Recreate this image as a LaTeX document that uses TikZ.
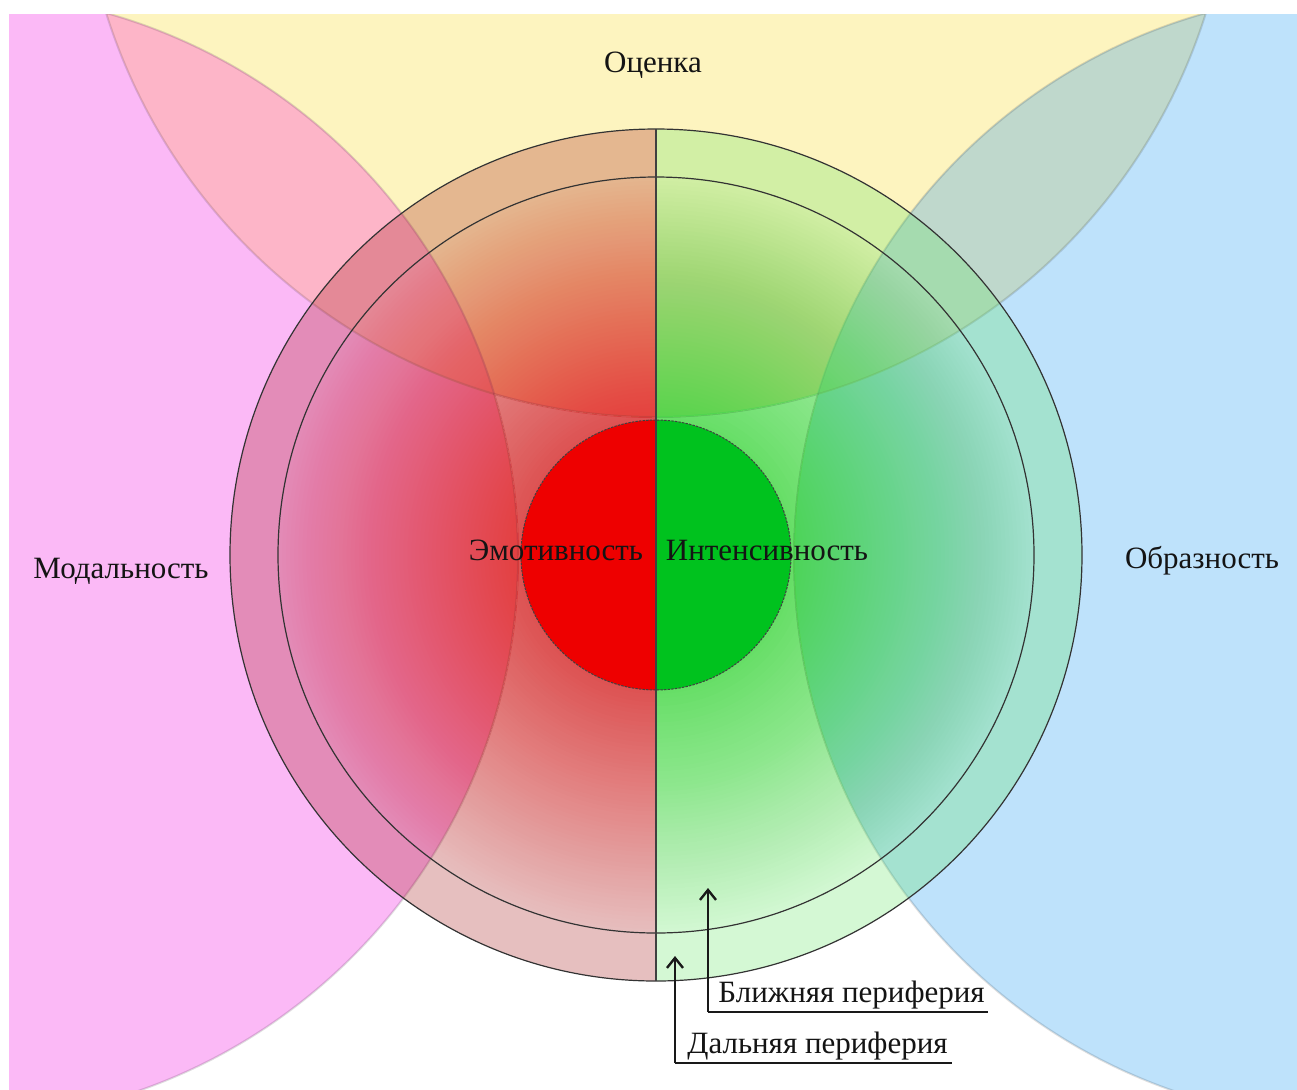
\documentclass[tikz,border=0pt]{standalone}
\usepackage{fontspec}
\setmainfont{Liberation Serif}
\usetikzlibrary{arrows.meta}
\definecolor{pinkbg}{RGB}{251,185,246}
\definecolor{yellowbg}{RGB}{253,244,191}
\definecolor{bluebg}{RGB}{190,226,251}
\definecolor{pinkyellow}{RGB}{253,181,200}
\definecolor{yellowblue}{RGB}{191,216,204}
\definecolor{tintL}{RGB}{165,25,25}
\definecolor{tintR}{RGB}{100,229,100}
\definecolor{gradL}{RGB}{232,40,38}
\definecolor{gradR}{RGB}{55,212,55}
\definecolor{coreL}{RGB}{238,0,0}
\definecolor{coreR}{RGB}{0,194,30}
\tikzset{
  bigedge/.style={draw=black, draw opacity=0.13, line width=1pt},
  ringline/.style={draw=black!80, line width=0.6pt},
  coreline/.style={draw=black!75, line width=0.5pt, dash pattern=on 1.2pt off 0.6pt},
  divider/.style={draw=black!75, line width=0.55pt},
  lbl/.style={inner sep=0pt, font=\fontsize{15.5}{18}\selectfont, text=black!92},
  pointer/.style={draw=black!90, line width=1.2pt, -{Straight Barb[length=5pt,width=8pt]}},
  uline/.style={draw=black!90, line width=1.3pt}
}
\begin{document}
\begin{tikzpicture}[x=0.5pt,y=-0.5pt]
\useasboundingbox (0,0) rectangle (1297,1089);
% background lobes
\begin{scope}
  \clip (9,14) rectangle (1297,1089);
  \fill[yellowbg] (656,-159) circle (576);
  \fill[pinkbg] (-47,557) circle (565);
  \fill[bluebg] (1359,557) circle (565);
  \begin{scope}
    \clip (656,-159) circle (576);
    \fill[pinkyellow] (-47,557) circle (565);
    \fill[yellowblue] (1359,557) circle (565);
  \end{scope}
  \path[bigedge] (656,-159) circle (576);
  \path[bigedge] (-47,557) circle (565);
  \path[bigedge] (1359,557) circle (565);
\end{scope}
% left half of the main circle
\begin{scope}
  \clip (0,0) rectangle (656,1089);
  \fill[tintL, fill opacity=0.28] (656,555) circle (426);
  \foreach \i in {0,...,59} {
    \pgfmathsetmacro\rr{378-\i*4.05}
    \pgfmathsetmacro\op{(0.68/60)/(1-\i*0.68/60)}
    \fill[gradL, fill opacity=\op] (656,555) circle (\rr);
  }
  \fill[coreL] (656,555) circle (135);
\end{scope}
% right half of the main circle
\begin{scope}
  \clip (656,0) rectangle (1297,1089);
  \fill[tintR, fill opacity=0.28] (656,555) circle (426);
  \foreach \i in {0,...,59} {
    \pgfmathsetmacro\rr{378-\i*4.05}
    \pgfmathsetmacro\op{(0.7/60)/(1-\i*0.7/60)}
    \fill[gradR, fill opacity=\op] (656,555) circle (\rr);
  }
  \fill[coreR] (656,555) circle (135);
\end{scope}
% outlines
\path[ringline] (656,555) circle (426);
\path[ringline] (656,555) circle (378);
\path[coreline] (656,555) circle (135);
\coordinate (dtop) at (656,129);
\coordinate (dbot) at (656,981);
\draw[divider] (dtop) -- (dbot);
% labels
\node[lbl, anchor=base] (ocenka) at (653,72) {Оценка};
\node[lbl, anchor=base] (modal) at (121,578) {Модальность};
\node[lbl, anchor=base] (obraz) at (1202,568) {Образность};
\node[lbl, anchor=base] (emot) at (556,560) {Эмотивность};
\node[lbl, anchor=base] (intens) at (767,560) {Интенсивность};
\node[lbl, anchor=base west] (blizh) at (718,1002) {Ближняя периферия};
\node[lbl, anchor=base west] (dal) at (687,1053) {Дальняя периферия};
% pointers
\coordinate (b0) at (708,1012);
\coordinate (b1) at (988,1012);
\coordinate (b2) at (708,888);
\coordinate (d0) at (675,1063);
\coordinate (d1) at (952,1063);
\coordinate (d2) at (675,956);
\draw[uline] (b0) -- (b1);
\draw[pointer] (b0) -- (b2);
\draw[uline] (d0) -- (d1);
\draw[pointer] (d0) -- (d2);
\end{tikzpicture}
\end{document}
